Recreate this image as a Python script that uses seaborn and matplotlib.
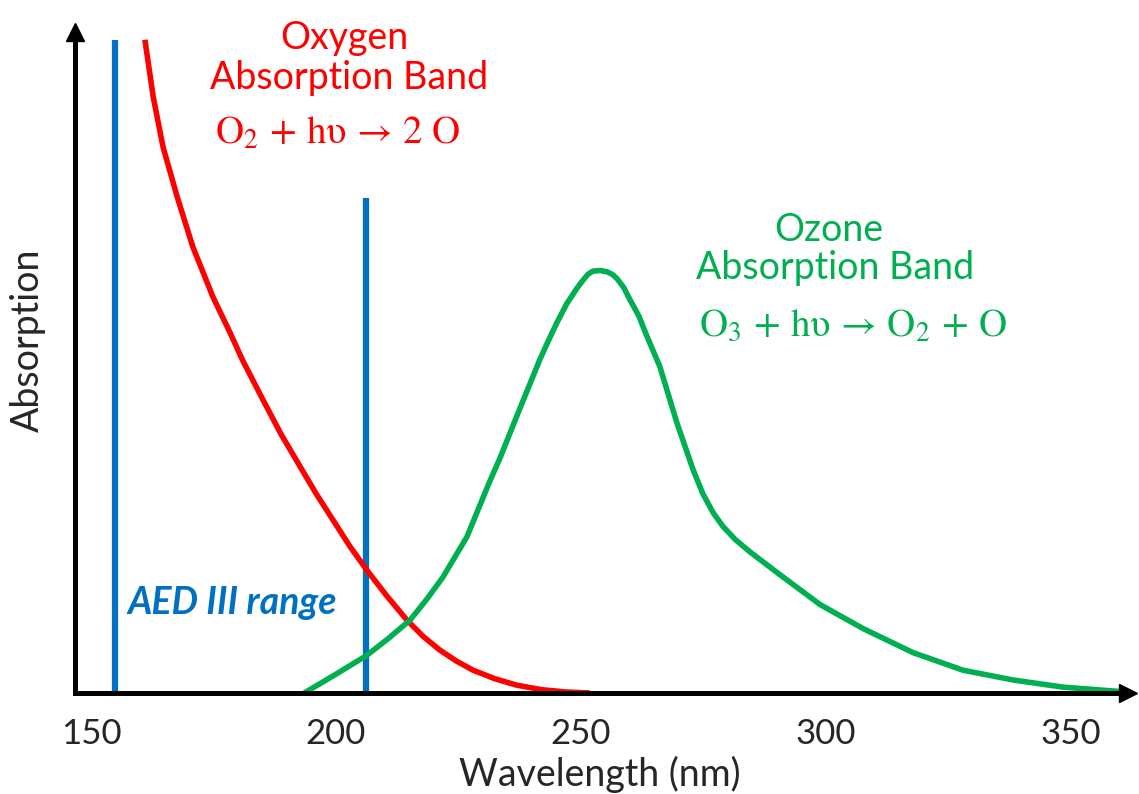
import matplotlib
matplotlib.use("Agg")
import matplotlib.pyplot as plt
import pandas as pd
import seaborn as sns

# Oxygen (O2) absorption curve: wavelength (nm) vs relative absorption
o2_wavelength = [161.0, 162.7, 164.7, 167.6, 170.8, 174.9, 178.4, 181.0, 185.1, 188.8,
                 192.7, 196.0, 199.4, 202.8, 206.3, 210.4, 214.5, 217.8, 221.2, 224.6,
                 228.0, 232.4, 236.9, 242.0, 247.1, 251.8]
o2_absorption = [100.5, 91.7, 84.0, 76.3, 68.6, 60.9, 55.4, 51.1, 45.1, 39.8,
                 34.8, 30.6, 26.6, 22.6, 18.9, 14.9, 11.2, 8.7, 6.6, 4.9,
                 3.5, 2.2, 1.2, 0.5, 0.15, 0.0]

# Ozone (O3) absorption curve
o3_wavelength = [193.5, 200.0, 206.3, 210.7, 215.1, 218.5, 221.8, 226.7, 231.4, 233.5,
                 236.9, 241.6, 243.1, 245.1, 247.1, 249.2, 250.4, 251.4, 252.4, 253.9,
                 255.3, 256.4, 257.3, 258.7, 260.0, 261.8, 263.5, 266.1, 269.6, 272.9,
                 274.9, 277.0, 279.0, 281.5, 284.5, 290.6, 298.8, 307.6, 317.8, 328.0,
                 338.2, 348.4, 361.4]
o3_absorption = [0.0, 2.9, 5.8, 8.4, 11.2, 14.4, 17.8, 24.0, 32.6, 36.2,
                 42.6, 51.3, 53.8, 57.0, 59.9, 62.3, 63.5, 64.4, 64.9, 65.0,
                 64.8, 64.4, 63.8, 62.4, 60.5, 58.0, 54.8, 50.2, 41.5, 34.3,
                 30.6, 27.7, 25.6, 23.6, 21.7, 18.2, 13.6, 9.9, 6.2, 3.5,
                 2.0, 0.9, 0.15]

# AED III wavelength window (edges and drawn heights)
aed_edges = [154.9, 206.1]
aed_tops = [100.5, 76.2]

x_ticks = [150, 200, 250, 300, 350]

RED = "#FF0000"
GREEN = "#00B050"
BLUE = "#0070C0"

sns.set_style("white")
plt.rcParams["font.family"] = ["Lato", "DejaVu Sans"]
plt.rcParams["mathtext.fontset"] = "stix"

W, H = 1139, 794
fig = plt.figure(figsize=(W / 100, H / 100), dpi=100)

# axes box in pixel terms
left_px, right_px, top_px, base_px = 75, 1128, 32, 693
ax = fig.add_axes([left_px / W, (H - base_px) / H,
                   (right_px - left_px) / W, (base_px - top_px) / H])

px_per_nm = 4.9
px_per_unit = 6.5
tick150_px = 91
ax.set_xlim(150 + (left_px - tick150_px) / px_per_nm,
            150 + (right_px - tick150_px) / px_per_nm)
ax.set_ylim(0, (base_px - top_px) / px_per_unit)

o2 = pd.DataFrame({"wavelength": o2_wavelength, "absorption": o2_absorption})
o3 = pd.DataFrame({"wavelength": o3_wavelength, "absorption": o3_absorption})

sns.lineplot(data=o2, x="wavelength", y="absorption", color=RED, lw=4.0,
             ax=ax, sort=False, solid_joinstyle="round", solid_capstyle="butt")
sns.lineplot(data=o3, x="wavelength", y="absorption", color=GREEN, lw=4.0,
             ax=ax, sort=False, solid_joinstyle="round", solid_capstyle="butt")

ax.vlines(aed_edges, 0, aed_tops, color=BLUE, lw=4.5, zorder=1)

# axes drawn as arrows
for side in ["top", "right"]:
    ax.spines[side].set_visible(False)
for side in ["left", "bottom"]:
    ax.spines[side].set_linewidth(3.6)
    ax.spines[side].set_color("black")
    ax.spines[side].set_zorder(3)
ax.plot(1, 0, ">k", ms=13, transform=ax.transAxes, clip_on=False)
ax.plot(0, 1, "^k", ms=13, transform=ax.transAxes, clip_on=False)

ax.set_xticks(x_ticks)
ax.set_xticklabels([str(t) for t in x_ticks])
ax.set_yticks([])
ax.tick_params(axis="x", length=0, pad=18, labelsize=25)
ax.set_xlabel("")
ax.set_ylabel("")


def fx(px):
    return px / W


def fy(py):
    return 1 - py / H


fig.text(fx(600), fy(756), "Wavelength (nm)", ha="center", va="top", fontsize=27)
fig.text(fx(28), fy(340), "Absorption", ha="center", va="center", rotation=90, fontsize=27)

fig.text(fx(344), fy(38), "Oxygen", ha="center", va="center", fontsize=27, color=RED)
fig.text(fx(349), fy(78), "Absorption Band", ha="center", va="center", fontsize=27, color=RED)
fig.text(fx(338), fy(133), r"$\mathrm{O_2 \,+\, h\upsilon \,\rightarrow\, 2\ O}$",
         ha="center", va="center", fontsize=28, color=RED)

fig.text(fx(829), fy(230), "Ozone", ha="center", va="center", fontsize=27, color=GREEN)
fig.text(fx(835), fy(268), "Absorption Band", ha="center", va="center", fontsize=27, color=GREEN)
fig.text(fx(853), fy(325), r"$\mathrm{O_3 \,+\, h\upsilon \,\rightarrow\, O_2 \,+\, O}$",
         ha="center", va="center", fontsize=28, color=GREEN)

fig.text(fx(232), fy(602), "AED III range", ha="center", va="center", fontsize=27,
         color=BLUE, fontweight="bold", fontstyle="italic")

fig.savefig("out.png", dpi=100)
